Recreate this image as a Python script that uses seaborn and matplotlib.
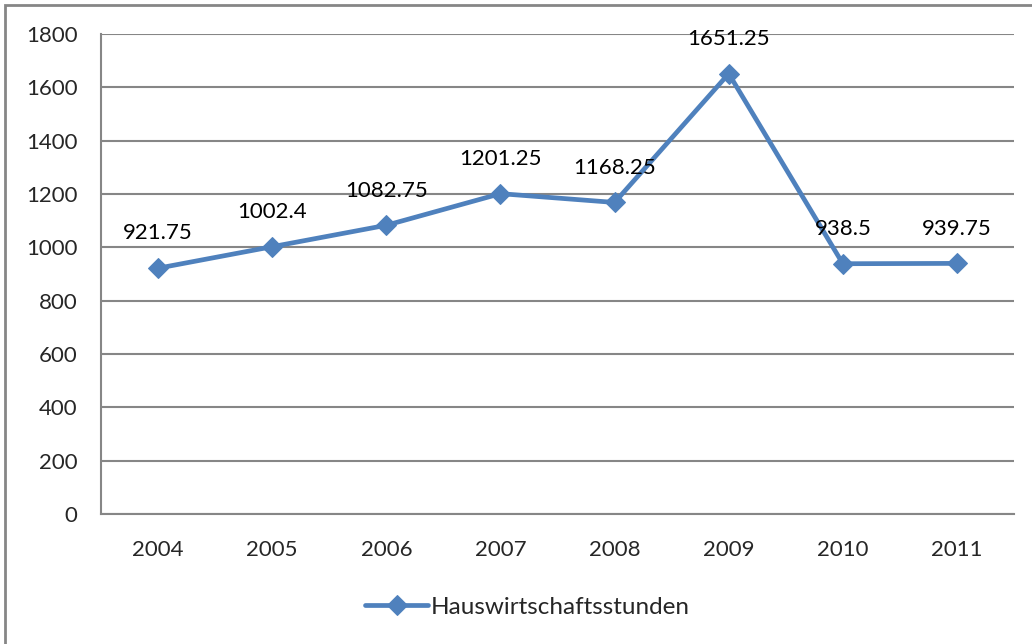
import seaborn as sns
import matplotlib.pyplot as plt
import pandas as pd
from matplotlib.patches import Rectangle

# Data
years = ["2004", "2005", "2006", "2007", "2008", "2009", "2010", "2011"]
hours = [921.75, 1002.4, 1082.75, 1201.25, 1168.25, 1651.25, 938.5, 939.75]
labels = ["921.75", "1002.4", "1082.75", "1201.25", "1168.25", "1651.25", "938.5", "939.75"]

df = pd.DataFrame({"Jahr": range(len(years)), "Stunden": hours})

sns.set_style("white")
plt.rcParams["font.family"] = ["Lato", "DejaVu Sans"]

fig = plt.figure(figsize=(10.32, 6.44), dpi=100)
ax = fig.add_axes([0.0979, 0.2019, 0.8847, 0.7453])

blue = "#4F81BD"
sns.lineplot(data=df, x="Jahr", y="Stunden", ax=ax, color=blue, linewidth=3.4,
             marker="D", markersize=10, markeredgecolor=blue,
             label="Hauswirtschaftsstunden")

for i, (v, t) in enumerate(zip(hours, labels)):
    ax.annotate(t, (i, v), xytext=(0, 25), textcoords="offset points",
                ha="center", va="center", fontsize=16, color="black")

ax.set_xlim(-0.5, len(years) - 0.5)
ax.set_ylim(0, 1800)
ax.set_yticks(range(0, 1801, 200))
ax.set_xticks(range(len(years)))
ax.set_xticklabels(years)
ax.set_xticks([i - 0.5 for i in range(len(years) + 1)], minor=True)
ax.tick_params(axis="x", which="major", length=0, pad=19, labelsize=16)
ax.tick_params(axis="x", which="minor", length=7, width=1.5, color="#868686", direction="out")
ax.tick_params(axis="y", length=7, width=1.5, color="#868686", direction="out", pad=10, labelsize=16)
ax.yaxis.grid(True, color="#868686", linewidth=1.5)
ax.set_axisbelow(True)
ax.set_xlabel("")
ax.set_ylabel("")
for side in ["top", "right"]:
    ax.spines[side].set_visible(False)
for side in ["left", "bottom"]:
    ax.spines[side].set_color("#868686")
    ax.spines[side].set_linewidth(1.5)

ax.legend(loc="center", bbox_to_anchor=(0.467, -0.194), frameon=False,
          fontsize=17.5, handlelength=2.6, handletextpad=0.1)

# outer chart border (partially cropped like the reference)
fig.patches.append(Rectangle((5 / 1032, -0.1), 1.2, 1 - 5 / 644 + 0.1,
                             transform=fig.transFigure, fill=False,
                             edgecolor="#868686", linewidth=2))

fig.savefig("out.png", dpi=100)
